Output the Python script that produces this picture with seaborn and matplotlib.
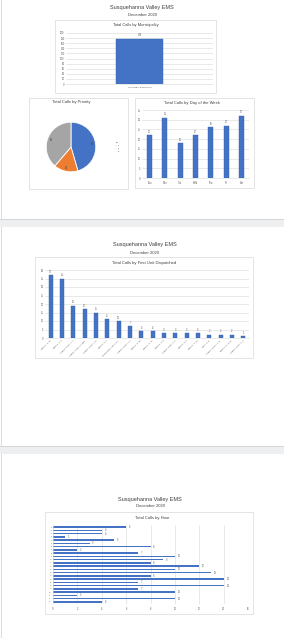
import matplotlib
matplotlib.use("Agg")
import matplotlib.pyplot as plt
from matplotlib.patches import Rectangle
import seaborn as sns
import pandas as pd

# ---------------- data ----------------
report_title = "Susquehanna Valley EMS"
report_month = "December 2020"

muni_names = ["COLUMBIA BOROUGH"]
muni_calls = [178]
muni_ticks = list(range(0, 201, 20))

priority_labels = ["1", "2", "3"]
priority_calls = [81, 28, 69]

days = ["Sun", "Mon", "Tue", "Wed", "Thu", "Fri", "Sat"]
day_calls = [22, 31, 18, 22, 26, 27, 32]
day_ticks = list(range(0, 36, 5))

units = ["MEDIC 77-12", "MEDIC 77-9", "AMBULANCE 77-1", "AMBULANCE 47-0986",
         "AMBULANCE 77-8", "MEDIC 77-5", "INTERMEDIATE 77-10", "AMBULANCE 77-3",
         "MEDIC 77-88", "MEDIC 77-11", "MEDIC 77-8", "AMBULANCE 77-2",
         "MEDIC 77-6", "MEDIC 77-10", "QRS 77-8", "AMBULANCE 77-44",
         "MEDIC 47-1000", "AMBULANCE 77-4"]
unit_calls = [37, 35, 19, 17, 15, 11, 10, 7, 4, 4, 3, 3, 3, 3, 2, 2, 2, 1]
unit_ticks = list(range(0, 41, 5))

hours = [str(h) for h in range(24)]
hour_calls = [6, 4, 4, 1, 5, 3, 8, 2, 7, 10, 9, 8, 12, 10, 13, 8, 14, 7, 14, 7, 10, 2, 10, 4]
hour_ticks = list(range(0, 17, 2))

BLUE = "#4472C4"
ORANGE = "#ED7D31"
GRAY = "#A5A5A5"
GRID = "#d9d9d9"
TXT = "#595959"

sns.set_theme(style="white")
plt.rcParams["font.family"] = ["Liberation Sans", "DejaVu Sans"]

W, H = 284, 638
fig = plt.figure(figsize=(W / 100, H / 100), dpi=100)
fig.patch.set_facecolor("white")


def frect(x0, y0, x1, y1, fc="white", ec="none", lw=0.5, z=-5):
    r = Rectangle((x0 / W, 1 - y1 / H), (x1 - x0) / W, (y1 - y0) / H,
                  transform=fig.transFigure, facecolor=fc, edgecolor=ec,
                  linewidth=lw, zorder=z)
    fig.patches.append(r)


def ftext(x, y, s, size, color="#404040", **kw):
    fig.text(x / W, 1 - y / H, s, fontsize=size, color=color,
             ha="center", va="center", **kw)


def add_ax(x0, y0, x1, y1):
    a = fig.add_axes([x0 / W, 1 - y1 / H, (x1 - x0) / W, (y1 - y0) / H])
    a.set_zorder(2)
    return a


def style_ax(ax, grid_axis="y"):
    for s in ax.spines.values():
        s.set_visible(False)
    ax.set_facecolor("none")
    ax.patch.set_alpha(0)
    ax.grid(True, axis=grid_axis, color=GRID, linewidth=0.4)
    ax.set_axisbelow(True)
    ax.tick_params(length=0, pad=1, labelsize=1.8, colors=TXT)
    ax.set_xlabel("")
    ax.set_ylabel("")


# ---------------- page backgrounds ----------------
frect(0, 219, W, 227, fc="#eeeff1")
frect(0, 446, W, 454, fc="#eeeff1")
frect(0, 218.5, W, 219.5, fc="#d6d6d6")
frect(0, 445.5, W, 446.5, fc="#d6d6d6")
for (a, b) in [(0, 219), (227, 446), (454, 638)]:
    frect(1, a, 2, b, fc="#dcdcdc")

# ---------------- page 1 ----------------
ftext(142, 8, report_title, 4.0)
ftext(142, 15, report_month, 3.0)

# municipality
frect(55, 20, 216, 93, ec=GRID)
ftext(136, 25, "Total Calls by Municipality", 2.9)
ax = add_ax(66, 33, 213, 84)
df = pd.DataFrame({"m": muni_names, "c": muni_calls})
sns.barplot(data=df, x="m", y="c", color=BLUE, width=0.32, ax=ax,
            saturation=1, edgecolor="#3a64b0", linewidth=0.3)
ax.set_ylim(0, 200)
ax.set_xlim(-0.5, 0.5)
ax.set_yticks(muni_ticks)
style_ax(ax)
ax.spines["bottom"].set_visible(True)
ax.spines["bottom"].set_color(GRID)
ax.spines["bottom"].set_linewidth(0.4)
ax.tick_params(axis="x", labelsize=1.6, pad=2)
ax.bar_label(ax.containers[0], fontsize=1.8, color=TXT, padding=1)

# priority pie
frect(29, 98, 128, 189, ec=GRID)
ftext(71, 102.5, "Total Calls by Priority", 3.0)
axp = add_ax(40, 116, 102, 178)
total = sum(priority_calls)
wedges, _, autotexts = axp.pie(
    priority_calls, colors=[BLUE, ORANGE, GRAY], startangle=90,
    counterclock=False, autopct=lambda p: f"{round(p * total / 100)}",
    pctdistance=0.86, wedgeprops=dict(edgecolor="white", linewidth=0.6),
    textprops=dict(fontsize=1.9, color="#404040"))
axp.set_aspect("equal")
axp.axis("off")
leg = axp.legend(wedges, priority_labels, title="Pri", fontsize=1.5,
                 title_fontsize=1.6, loc="center left",
                 bbox_to_anchor=(1.18, 0.5), frameon=False,
                 handlelength=0.6, handleheight=0.6, labelspacing=0.8,
                 handletextpad=0.6)

# day of week
frect(135, 98, 254, 188, ec=GRID)
ftext(192, 103, "Total Calls by Day of the Week", 3.0)
ax2 = add_ax(142, 110, 249, 178)
dfd = pd.DataFrame({"d": days, "c": day_calls})
sns.barplot(data=dfd, x="d", y="c", color=BLUE, width=0.33, ax=ax2,
            saturation=1, edgecolor="#3a64b0", linewidth=0.3)
ax2.set_ylim(0, 35)
ax2.set_xlim(-0.5, len(days) - 0.5)
ax2.set_yticks(day_ticks)
style_ax(ax2)
ax2.spines["bottom"].set_visible(True)
ax2.spines["bottom"].set_color(GRID)
ax2.spines["bottom"].set_linewidth(0.4)
ax2.tick_params(axis="x", pad=2)
ax2.bar_label(ax2.containers[0], fontsize=1.8, color=TXT, padding=1)

# ---------------- page 2 ----------------
ftext(145, 245, report_title, 4.0)
ftext(145, 253, report_month, 3.0)
frect(35, 257, 253, 358, ec=GRID)
ftext(144, 263, "Total Calls by First Unit Dispatched", 3.0)
ax3 = add_ax(45, 270, 249, 338)
dfu = pd.DataFrame({"u": units, "c": unit_calls})
sns.barplot(data=dfu, x="u", y="c", color=BLUE, width=0.36, ax=ax3,
            saturation=1, edgecolor="#3a64b0", linewidth=0.3)
ax3.set_ylim(0, 40)
ax3.set_xlim(-0.5, len(units) - 0.5)
ax3.set_yticks(unit_ticks)
style_ax(ax3)
ax3.spines["bottom"].set_visible(True)
ax3.spines["bottom"].set_color(GRID)
ax3.spines["bottom"].set_linewidth(0.4)
ax3.tick_params(axis="x", labelsize=1.6, pad=1.5)
for lab in ax3.get_xticklabels():
    lab.set_rotation(45)
    lab.set_ha("right")
    lab.set_rotation_mode("anchor")
ax3.bar_label(ax3.containers[0], fontsize=1.8, color=TXT, padding=1)

# ---------------- page 3 ----------------
ftext(150, 499, report_title, 4.0)
ftext(150, 506, report_month, 3.0)
frect(45, 512, 253, 614, ec=GRID)
ftext(152, 518, "Total Calls by Hour", 3.0)
ax4 = add_ax(53, 525.4, 248, 603.6)
dfh = pd.DataFrame({"h": hours, "c": hour_calls})
sns.barplot(data=dfh, y="h", x="c", orient="h", color=BLUE, width=0.45,
            ax=ax4, saturation=1, linewidth=0)
ax4.set_xlim(0, 16)
ax4.set_ylim(len(hours) - 0.5, -0.5)
ax4.set_xticks(hour_ticks)
style_ax(ax4, grid_axis="x")
ax4.spines["left"].set_visible(True)
ax4.spines["left"].set_color(GRID)
ax4.spines["left"].set_linewidth(0.4)
ax4.tick_params(axis="y", labelsize=1.5, pad=1)
ax4.tick_params(axis="x", pad=2.5)
ax4.bar_label(ax4.containers[0], fontsize=1.8, color=TXT, padding=2)

fig.savefig("out.png", dpi=100, facecolor="white")
